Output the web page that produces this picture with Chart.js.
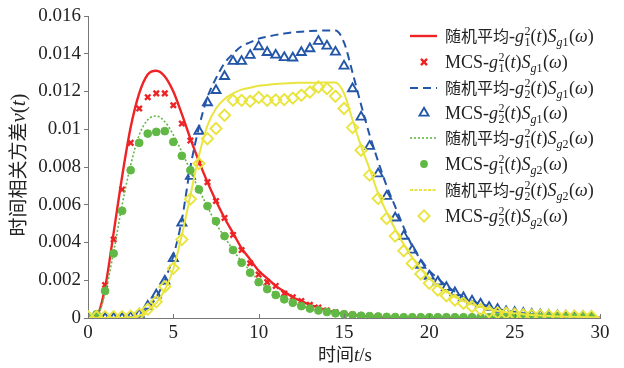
<!DOCTYPE html>
<html>
<head>
<meta charset="utf-8">
<script src="https://cdn.jsdelivr.net/npm/chart.js@4/dist/chart.umd.min.js"></script>
<style>
html,body{margin:0;padding:0;background:#fff;}
#wrap{width:624px;height:368px;position:relative;}
</style>
</head>
<body>
<div id="wrap"><canvas id="c" width="624" height="368"></canvas></div>
<script>
// ---- data ----
const tLine = [0,0.5,1,1.5,2,2.5,3,3.5,4,4.5,5,5.5,6,6.5,7,7.5,8,8.5,9,9.5,10,10.5,11,11.5,12,12.5,13,13.5,14,14.5,15,15.5,16,16.5,17,17.5,18,18.5,19,19.5,20,20.5,21,21.5,22,22.5,23,23.5,24,24.5,25,25.5,26,26.5,27,27.5,28,28.5,29,29.5,30];
const tMcs = [0,0.5,1,1.5,2,2.5,3,3.5,4,4.5,5,5.5,6,6.5,7,7.5,8,8.5,9,9.5,10,10.5,11,11.5,12,12.5,13,13.5,14,14.5,15,15.5,16,16.5,17,17.5,18,18.5,19,19.5,20,20.5,21,21.5,22,22.5,23,23.5,24,24.5,25,25.5,26,26.5,27,27.5,28,28.5,29,29.5];

const avgG1Sg1 = [0,0.0001,0.0016,0.0045,0.0075,0.0101,0.0119,0.0129,0.0131,0.0128,0.0120,0.0108,0.0095,0.0083,0.0072,0.0062,0.0053,0.0045,0.0037,0.0031,0.0025,0.0021,0.0017,0.0014,0.0011,0.0009,0.0007,0.00055,0.0004,0.0003,0.00022,0.00016,0.00012,0.00009,0.00006,0.00004,0.00003,0.00002,0.00002,0.00001,0.00001,0.00001,0,0,0,0,0,0,0,0,0,0,0,0,0,0,0,0,0,0,0];
const mcsG1Sg1 = [0,0.0002,0.00175,0.00416,0.00681,0.00928,0.0111,0.0117,0.0119,0.0119,0.01127,0.0103,0.0094,0.0082,0.0072,0.0062,0.0053,0.0044,0.0036,0.0029,0.0023,0.0019,0.0017,0.0013,0.0011,0.0009,0.0007,0.00055,0.0004,0.0003,0.00022,0.00017,0.00012,0.0001,0.00008,0.00006,0.00005,0.00003,0.00003,0.00003,0.00003,0.00003,0.00003,0.00003,0.00003,0.00003,0.00003,0.00003,0.00003,0.00003,0.00003,0.00003,0.00003,0.00003,0.00003,0.00003,0.00003,0.00003,0.00003,0.00003];
const avgG2Sg1 = [0,0,0,0,0,0.00003,0.00015,0.0005,0.0011,0.0020,0.0033,0.0052,0.0080,0.0101,0.0117,0.0127,0.0135,0.0140,0.0144,0.0146,0.0148,0.0149,0.0150,0.01507,0.01513,0.01517,0.0152,0.01522,0.01523,0.01523,0.0146,0.0130,0.0113,0.0097,0.0083,0.0070,0.0059,0.0048,0.0038,0.0031,0.0025,0.0021,0.0017,0.0014,0.0011,0.0009,0.00075,0.0006,0.00048,0.0004,0.00032,0.00025,0.0002,0.00016,0.00013,0.0001,0.00008,0.00007,0.00006,0.00005,0.00004];
const mcsG2Sg1 = [0,0,0,0,0,0.00005,0.0002,0.00063,0.00122,0.00196,0.00316,0.00504,0.00751,0.0099,0.01141,0.01206,0.0128,0.0136,0.0136,0.01392,0.01438,0.01407,0.01393,0.0138,0.01378,0.01407,0.01427,0.01466,0.01441,0.01409,0.01335,0.01215,0.01065,0.0091,0.00764,0.00645,0.0053,0.00434,0.0036,0.0028,0.00222,0.00192,0.00162,0.00134,0.00108,0.0009,0.00074,0.00057,0.00046,0.00034,0.0003,0.00025,0.0002,0.00017,0.00014,0.00012,0.0001,0.00009,0.00008,0.00007];
const avgG1Sg2 = [0,0.0001,0.0013,0.0035,0.0060,0.0081,0.0097,0.0105,0.0107,0.0104,0.0097,0.0088,0.0078,0.0068,0.0059,0.0050,0.0043,0.0036,0.0030,0.0025,0.0020,0.0016,0.0013,0.0010,0.0008,0.00065,0.0005,0.0004,0.0003,0.00022,0.00016,0.00012,0.00008,0.00006,0.00004,0.00003,0.00002,0.00002,0.00001,0.00001,0,0,0,0,0,0,0,0,0,0,0,0,0,0,0,0,0,0,0,0,0];
const mcsG1Sg2 = [0,0.0002,0.00143,0.00342,0.00568,0.00783,0.00928,0.00977,0.00986,0.0099,0.00933,0.00859,0.00783,0.00681,0.00593,0.00513,0.00434,0.0036,0.00293,0.0024,0.0019,0.00153,0.00122,0.00099,0.00081,0.00063,0.0005,0.0004,0.00032,0.00025,0.0002,0.00015,0.00012,0.0001,0.00008,0.00006,0.00005,0.00004,0.00004,0.00004,0.00004,0.00004,0.00004,0.00004,0.00004,0.00004,0.00004,0.00004,0.00004,0.00004,0.00004,0.00004,0.00004,0.00004,0.00004,0.00004,0.00004,0.00004,0.00004,0.00004];
const avgG2Sg2 = [0,0,0,0,0,0.00003,0.00012,0.0004,0.0008,0.0015,0.0026,0.0044,0.0065,0.0086,0.0102,0.0111,0.0116,0.0119,0.0121,0.0122,0.0123,0.01235,0.0124,0.01243,0.01245,0.01246,0.01247,0.01247,0.01248,0.01248,0.0119,0.0105,0.0091,0.0079,0.0066,0.0056,0.0047,0.0039,0.0032,0.0026,0.0021,0.0017,0.0014,0.0011,0.0009,0.00072,0.00058,0.00046,0.00037,0.0003,0.00025,0.0002,0.00016,0.00013,0.0001,0.00008,0.00007,0.00006,0.00005,0.00004,0.00003];
const mcsG2Sg2 = [0.00007,0.00007,0.00007,0.00007,0.00007,0.0001,0.0002,0.00046,0.00086,0.00166,0.00263,0.00416,0.0063,0.00818,0.0095,0.01004,0.01074,0.01153,0.01153,0.01148,0.01168,0.01153,0.01155,0.01157,0.01165,0.0118,0.01197,0.01224,0.01215,0.01175,0.0111,0.01009,0.00889,0.00757,0.00633,0.00527,0.00434,0.00356,0.00289,0.00233,0.00184,0.00148,0.00118,0.00095,0.00078,0.0006,0.00046,0.00033,0.00028,0.00025,0.0002,0.00017,0.00015,0.00013,0.00012,0.0001,0.0001,0.00009,0.00008,0.00008];

const xTicks = [0,5,10,15,20,25,30];
const yTicks = [0,0.002,0.004,0.006,0.008,0.01,0.012,0.014,0.016];

// ---- styling ----
const RED = '#ee2326', BLUE = '#2456a8', GREEN = '#62b845', YELLOW = '#e9e43e';
const SERIF = '"Liberation Serif","Times New Roman",serif';
const CJK = '"Noto Sans CJK SC","Noto Sans CJK JP",sans-serif';

const pts = (t, v) => v.map((y, i) => ({x: t[i], y}));

const series = [
  {key:'avg', g:'1', s:'1', kind:'line', data: pts(tLine, avgG1Sg1), color: RED, dash: [], width: 2.4},
  {key:'mcs', g:'1', s:'1', kind:'crossRot', data: pts(tMcs, mcsG1Sg1), color: RED},
  {key:'avg', g:'2', s:'1', kind:'line', data: pts(tLine, avgG2Sg1), color: BLUE, dash: [8,5], width: 2},
  {key:'mcs', g:'2', s:'1', kind:'triangle', data: pts(tMcs, mcsG2Sg1), color: BLUE},
  {key:'avg', g:'1', s:'2', kind:'line', data: pts(tLine, avgG1Sg2), color: GREEN, dash: [2,2], width: 1.6},
  {key:'mcs', g:'1', s:'2', kind:'circle', data: pts(tMcs, mcsG1Sg2), color: GREEN},
  {key:'avg', g:'2', s:'2', kind:'line', data: pts(tLine, avgG2Sg2), color: YELLOW, dash: [], width: 2},
  {key:'mcs', g:'2', s:'2', kind:'rectRot', data: pts(tMcs, mcsG2Sg2), color: YELLOW}
];

const datasets = series.map((s, i) => {
  const base = {data: s.data, order: 10 - i};
  if (s.kind === 'line') {
    return Object.assign(base, {
      type: 'line', borderColor: s.color, borderWidth: s.width, borderDash: s.dash,
      pointRadius: 0, fill: false, cubicInterpolationMode: 'monotone', tension: 0.4
    });
  }
  const m = {crossRot:{r:3.8,bw:2.4,bg:s.color}, triangle:{r:5.2,bw:1.9,bg:'rgba(255,255,255,0)'},
             circle:{r:3.9,bw:1,bg:s.color}, rectRot:{r:5.6,bw:1.9,bg:'rgba(255,255,255,0)'}}[s.kind];
  return Object.assign(base, {
    type: 'line', showLine: false, pointStyle: s.kind, pointRadius: m.r, pointBorderWidth: m.bw,
    pointBorderColor: s.color, pointBackgroundColor: m.bg, borderColor: s.color, backgroundColor: m.bg
  });
});

// ---- rich text helper ----
function font(size, italic) { return (italic ? 'italic ' : '') + size + 'px ' + SERIF; }
function cjk(size) { return size + 'px ' + CJK; }

function measureParts(ctx, parts) {
  let w = 0;
  for (const p of parts) {
    ctx.font = p.f;
    const pw = ctx.measureText(p.s).width;
    if (p.adv !== false) w += pw + (p.sp || 0);
  }
  return w;
}
function drawParts(ctx, x, y, parts) {
  let cx = x, pending = 0;
  for (const p of parts) {
    ctx.font = p.f;
    ctx.fillText(p.s, cx, y + (p.dy || 0));
    const pw = ctx.measureText(p.s).width;
    if (p.adv === false) { pending = Math.max(pending, pw); }
    else { cx += Math.max(pw, pending) + (p.sp || 0); pending = 0; }
  }
  return cx;
}

function legendParts(key, g, s) {
  const P = 18, SM = 12;
  const parts = [];
  if (key === 'avg') {
    parts.push({s:'随机平均', f: cjk(16)});
    parts.push({s:'-', f: font(P)});
  } else {
    parts.push({s:'MCS-', f: font(P)});
  }
  parts.push({s:'g', f: font(P, true), sp: 0.5});
  parts.push({s:'2', f: font(SM), dy: -7, adv: false});
  parts.push({s:g, f: font(SM), dy: 4});
  parts.push({s:'(', f: font(P)});
  parts.push({s:'t', f: font(P, true)});
  parts.push({s:')', f: font(P)});
  parts.push({s:'S', f: font(P, true)});
  parts.push({s:'g', f: font(SM, true), dy: 4});
  parts.push({s:s, f: font(SM), dy: 4, sp: 0.5});
  parts.push({s:'(', f: font(P)});
  parts.push({s:'ω', f: font(P, true)});
  parts.push({s:')', f: font(P)});
  return parts;
}

function drawMarker(ctx, kind, x, y, color) {
  ctx.save();
  ctx.strokeStyle = color; ctx.fillStyle = color;
  ctx.setLineDash([]);
  if (kind === 'crossRot') {
    const r = 3.8; ctx.lineWidth = 2.4;
    ctx.beginPath();
    ctx.moveTo(x - r*0.8, y - r*0.8); ctx.lineTo(x + r*0.8, y + r*0.8);
    ctx.moveTo(x + r*0.8, y - r*0.8); ctx.lineTo(x - r*0.8, y + r*0.8);
    ctx.stroke();
  } else if (kind === 'triangle') {
    const r = 5.2; ctx.lineWidth = 1.9;
    ctx.beginPath();
    ctx.moveTo(x, y - r); ctx.lineTo(x + r*0.866, y + r*0.5); ctx.lineTo(x - r*0.866, y + r*0.5);
    ctx.closePath(); ctx.stroke();
  } else if (kind === 'circle') {
    ctx.beginPath(); ctx.arc(x, y, 3.9, 0, Math.PI*2); ctx.fill();
  } else if (kind === 'rectRot') {
    const r = 5.6; ctx.lineWidth = 1.9;
    ctx.beginPath();
    ctx.moveTo(x, y - r); ctx.lineTo(x + r, y); ctx.lineTo(x, y + r); ctx.lineTo(x - r, y);
    ctx.closePath(); ctx.stroke();
  }
  ctx.restore();
}

const decorPlugin = {
  id: 'decor',
  afterDraw(chart) {
    const ctx = chart.ctx;
    const xs = chart.scales.x, area = chart.chartArea;
    ctx.save();
    // inward x ticks
    ctx.strokeStyle = '#777'; ctx.lineWidth = 1;
    for (const v of xTicks) {
      const px = Math.round(xs.getPixelForValue(v)) + 0.5;
      ctx.beginPath(); ctx.moveTo(px, area.bottom); ctx.lineTo(px, area.bottom - 4); ctx.stroke();
    }
    ctx.fillStyle = '#222';
    ctx.textBaseline = 'alphabetic';
    // legend
    const rowY = [36, 62, 88, 113, 138, 164, 190, 216];
    series.forEach((s, i) => {
      const y = rowY[i];
      if (s.kind === 'line') {
        ctx.save();
        ctx.strokeStyle = s.color; ctx.lineWidth = s.width;
        ctx.setLineDash(s.dash.length ? s.dash : []);
        if (s.color === YELLOW) ctx.setLineDash([3,1.5]);
        ctx.beginPath(); ctx.moveTo(410, y); ctx.lineTo(437, y); ctx.stroke();
        ctx.restore();
      } else {
        drawMarker(ctx, s.kind, 424, y, s.color);
      }
      ctx.fillStyle = '#222';
      drawParts(ctx, 445, y + 6, legendParts(s.key, s.g, s.s));
    });
    // x title
    const xt = [{s:'时间', f: cjk(18)}, {s:'t', f: font(19, true)}, {s:'/s', f: font(19)}];
    const xw = measureParts(ctx, xt);
    drawParts(ctx, 345 - xw/2, 361, xt);
    // y title (rotated)
    const yt = [{s:'时间相关方差', f: cjk(19)}, {s:'v', f: font(21, true)}, {s:'(', f: font(21)}, {s:'t', f: font(21, true)}, {s:')', f: font(21)}];
    const yw = measureParts(ctx, yt);
    ctx.translate(25, 165);
    ctx.rotate(-Math.PI/2);
    drawParts(ctx, -yw/2, 0, yt);
    ctx.restore();
  }
};

new Chart(document.getElementById('c'), {
  type: 'line',
  data: {datasets},
  options: {
    responsive: false,
    animation: false,
    events: [],
    layout: {padding: {top: 16, right: 24, left: 0, bottom: 0}},
    plugins: {legend: {display: false}, tooltip: {enabled: false}},
    scales: {
      x: {
        type: 'linear', min: 0, max: 30,
        afterBuildTicks: s => { s.ticks = xTicks.map(v => ({value: v})); },
        afterFit: s => { s.height = 50; },
        ticks: {font: {family: SERIF, size: 19}, color: '#222', padding: 4, maxRotation: 0,
                callback: v => String(v)},
        grid: {display: true, drawOnChartArea: false, drawTicks: false},
        border: {display: true, color: '#777', width: 1}
      },
      y: {
        type: 'linear', min: 0, max: 0.016,
        afterBuildTicks: s => { s.ticks = yTicks.map(v => ({value: v})); },
        afterFit: s => { s.width = 88; },
        ticks: {font: {family: SERIF, size: 19}, color: '#222', padding: 3,
                callback: v => String(+Number(v).toFixed(4))},
        grid: {display: true, drawOnChartArea: false, drawTicks: true, tickLength: 4, color: '#777'},
        border: {display: true, color: '#777', width: 1}
      }
    }
  },
  plugins: [decorPlugin]
});
</script>
</body>
</html>
